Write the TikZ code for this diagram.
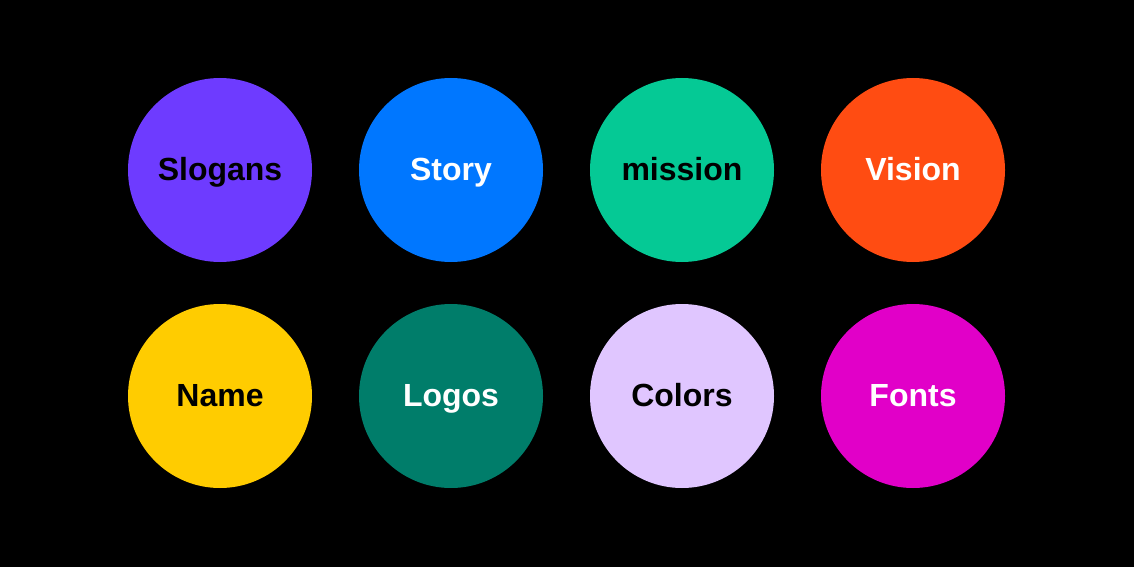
\documentclass[tikz,border=0pt]{standalone}
\usepackage{fontspec}
\setmainfont{Liberation Sans}
\usepackage{xcolor}
\definecolor{slogancol}{HTML}{6E3BFF}
\definecolor{storycol}{HTML}{0077FF}
\definecolor{missioncol}{HTML}{05C995}
\definecolor{visioncol}{HTML}{FF4C12}
\definecolor{namecol}{HTML}{FFCC00}
\definecolor{logocol}{HTML}{007D6A}
\definecolor{colorcol}{HTML}{E0C6FF}
\definecolor{fontcol}{HTML}{E100C8}
\tikzset{
  blob/.style={circle,minimum size=184pt,inner sep=0pt,text height=23pt,text depth=3pt,
    font=\fontsize{32}{32}\selectfont\bfseries},
}

\begin{document}
\begin{tikzpicture}[x=1pt,y=-1pt]
\fill[black] (0,0) rectangle (1134,567);
\useasboundingbox (0,0) rectangle (1134,567);
% top row
\node[blob,fill=slogancol,text=black] (slogans) at (220,170) {Slogans};
\node[blob,fill=storycol,text=white] (story) at (451,170) {Story};
\node[blob,fill=missioncol,text=black] (mission) at (682,170) {mission};
\node[blob,fill=visioncol,text=white] (vision) at (913,170) {Vision};
% bottom row
\node[blob,fill=namecol,text=black] (name) at (220,396) {Name};
\node[blob,fill=logocol,text=white] (logos) at (451,396) {Logos};
\node[blob,fill=colorcol,text=black] (colors) at (682,396) {Colors};
\node[blob,fill=fontcol,text=white] (fonts) at (913,396) {Fonts};
\end{tikzpicture}
\end{document}
